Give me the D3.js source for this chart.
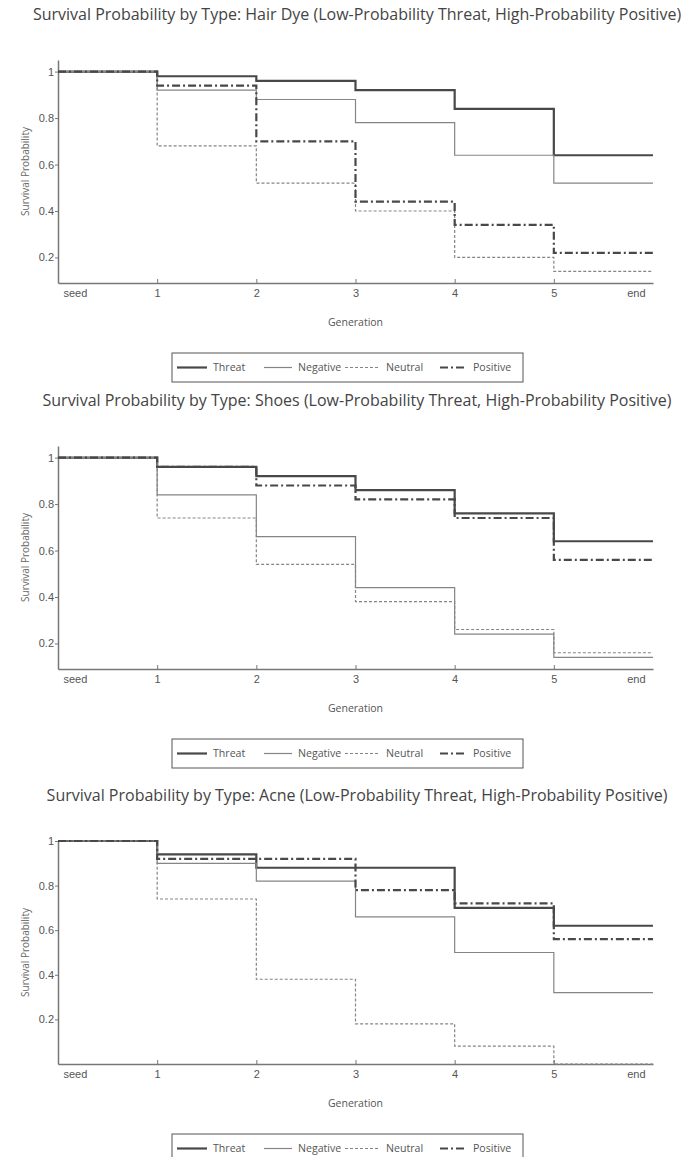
<!DOCTYPE html>
<meta charset="utf-8">
<style>
body { margin: 0; background: #fff; }
svg { font-family: "Open Sans", sans-serif; }
.tick text { fill: #555; }
</style>
<svg width="688" height="1157"></svg>
<script src="https://d3js.org/d3.v7.min.js"></script>
<script>
// chart data: survival probability per generation interval (seed..5)
var titles = [
  "Survival Probability by Type: Hair Dye (Low-Probability Threat, High-Probability Positive)",
  "Survival Probability by Type: Shoes (Low-Probability Threat, High-Probability Positive)",
  "Survival Probability by Type: Acne (Low-Probability Threat, High-Probability Positive)"
]
var seriesNames = ["Threat", "Negative", "Neutral", "Positive"]
var xLabels = ["seed", "1", "2", "3", "4", "5", "end"]
var yTicks = [0.2, 0.4, 0.6, 0.8, 1]
var yDomains = [[0.09, 1.05], [0.09, 1.05], [0, 1]]

var hairDye = [
  [1, 0.98, 0.96, 0.92, 0.84, 0.64],
  [1, 0.92, 0.88, 0.78, 0.64, 0.52],
  [1, 0.68, 0.52, 0.40, 0.20, 0.14],
  [1, 0.94, 0.70, 0.44, 0.34, 0.22]
]
var shoes = [
  [1, 0.96, 0.92, 0.86, 0.76, 0.64],
  [1, 0.84, 0.66, 0.44, 0.24, 0.14],
  [1, 0.74, 0.54, 0.38, 0.26, 0.16],
  [1, 0.96, 0.88, 0.82, 0.74, 0.56]
]
var acne = [
  [1, 0.94, 0.88, 0.88, 0.70, 0.62],
  [1, 0.90, 0.82, 0.66, 0.50, 0.32],
  [1, 0.74, 0.38, 0.18, 0.08, 0.00],
  [1, 0.92, 0.92, 0.78, 0.72, 0.56]
]
var charts = [hairDye, shoes, acne]

// line styles per series
var styles = [
  {stroke: "#484848", width: 2.2, dash: null},
  {stroke: "#858585", width: 1.2, dash: null},
  {stroke: "#858585", width: 1.2, dash: "3,2"},
  {stroke: "#484848", width: 2.2, dash: "8,3,2,3"}
]

var svg = d3.select("svg")
var offsets = [0, 386, 781]
var pLeft = 58, pRight = 653, pTop = 60, pBottom = 283

var x = d3.scaleLinear().domain([0, 6]).range([pLeft, pRight])

charts.forEach(function(data, ci) {
  var g = svg.append("g").attr("transform", "translate(0," + offsets[ci] + ")")
  var y = d3.scaleLinear().domain(yDomains[ci]).range([pBottom, pTop])

  g.append("text")
    .attr("x", 357).attr("y", 20)
    .attr("text-anchor", "middle")
    .attr("font-size", 16)
    .attr("fill", "#444")
    .text(titles[ci])

  // x axis
  var xa = g.append("g").attr("transform", "translate(0," + pBottom + ")")
    .call(d3.axisBottom(x).tickValues([0, 1, 2, 3, 4, 5, 6])
      .tickSize(-4).tickPadding(10).tickSizeOuter(0)
      .tickFormat(function(d) { return xLabels[d] }))
  xa.select(".domain").attr("stroke", "#777").attr("stroke-width", 1.5)
  xa.selectAll(".tick line").attr("stroke", "#777")
    .filter(function(d) { return d == 0 || d == 6 }).remove()
  xa.selectAll(".tick text").attr("font-size", 11)
    .attr("dy", "0.35em").attr("y", 10)
  xa.selectAll(".tick text").filter(function(d) { return d == 0 })
    .attr("text-anchor", "start").attr("x", 5)
  xa.selectAll(".tick text").filter(function(d) { return d == 6 })
    .attr("text-anchor", "end").attr("x", -8)

  // y axis
  var ya = g.append("g").attr("transform", "translate(" + pLeft + ",0)")
    .call(d3.axisLeft(y).tickValues(yTicks).tickSize(3).tickPadding(1)
      .tickSizeOuter(0).tickFormat(d3.format("")))
  ya.select(".domain").attr("stroke", "#777").attr("stroke-width", 1.5)
  ya.selectAll(".tick line").attr("stroke", "#777")
  ya.selectAll(".tick text").attr("font-size", 11)

  g.append("text")
    .attr("transform", "translate(25," + (pTop + pBottom) / 2 + ") rotate(-90)")
    .attr("text-anchor", "middle")
    .attr("dy", "0.35em")
    .attr("font-size", 10)
    .attr("fill", "#666")
    .text("Survival Probability")

  g.append("text")
    .attr("x", (pLeft + pRight) / 2).attr("y", 326)
    .attr("text-anchor", "middle")
    .attr("font-size", 10.5)
    .attr("fill", "#555")
    .text("Generation")

  // step lines
  var line = d3.line()
    .x(function(d) { return x(d[0]) })
    .y(function(d) { return y(d[1]) })
    .curve(d3.curveStepAfter)
  data.forEach(function(vals, si) {
    var pts = vals.map(function(v, i) { return [i, v] })
    pts.push([6, vals[vals.length - 1]])
    var st = styles[si]
    g.append("path")
      .attr("d", line(pts))
      .attr("fill", "none")
      .attr("stroke", st.stroke)
      .attr("stroke-width", st.width)
      .attr("stroke-dasharray", st.dash)
  })

  // legend
  var lg = g.append("g").attr("transform", "translate(172,353)")
  lg.append("rect").attr("width", 351).attr("height", 29)
    .attr("fill", "#fff").attr("stroke", "#555").attr("stroke-width", 1)
  var itemX = [5, 92, 173, 268], itemLen = [30, 28, 35, 27]
  seriesNames.forEach(function(name, si) {
    var st = styles[si]
    lg.append("line")
      .attr("x1", itemX[si]).attr("x2", itemX[si] + itemLen[si])
      .attr("y1", 14.5).attr("y2", 14.5)
      .attr("stroke", st.stroke).attr("stroke-width", st.width)
      .attr("stroke-dasharray", st.dash)
    lg.append("text")
      .attr("x", itemX[si] + itemLen[si] + 6).attr("y", 14.5)
      .attr("dy", "0.35em")
      .attr("font-size", 10.6)
      .attr("fill", "#555")
      .text(name)
  })
})
</script>
